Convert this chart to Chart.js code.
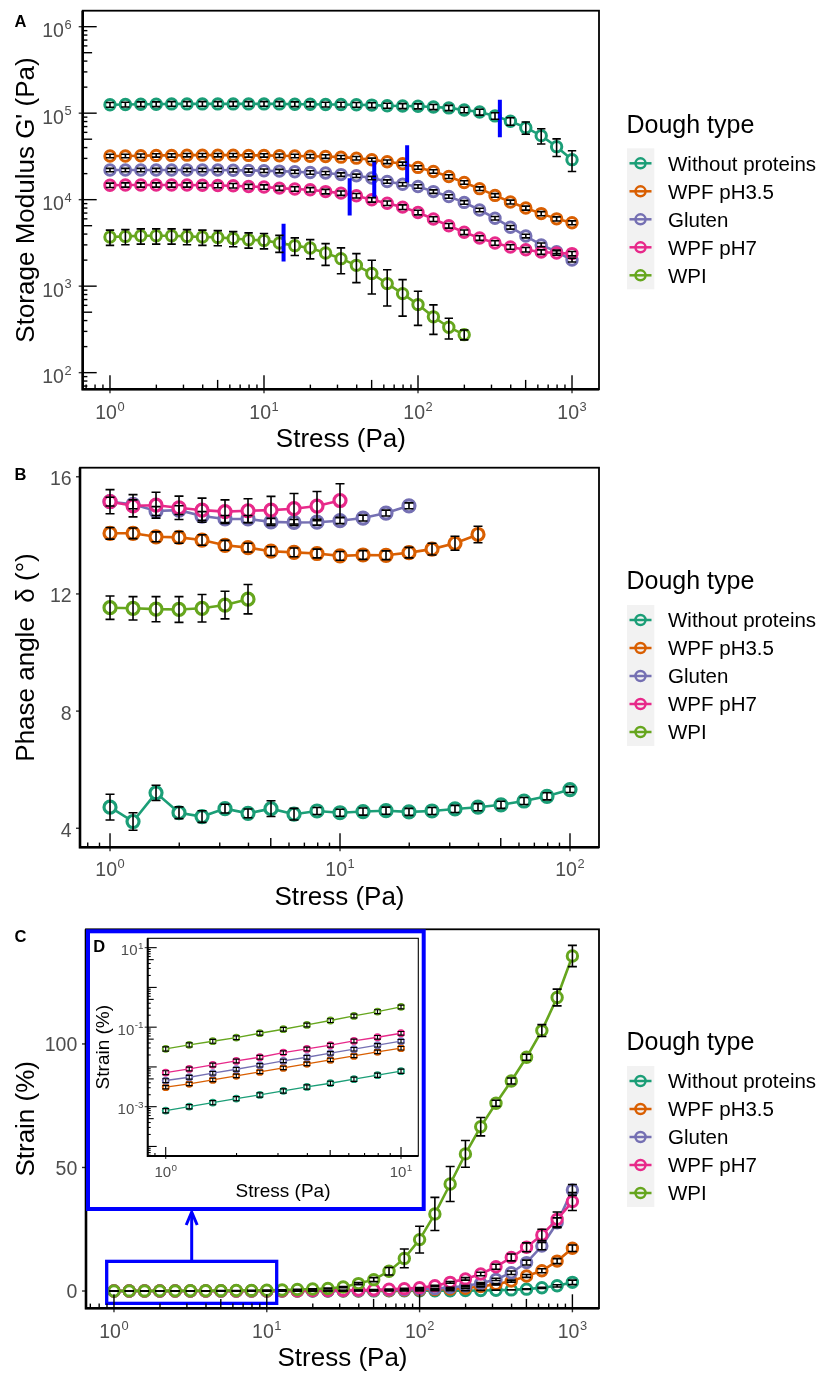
<!DOCTYPE html>
<html><head><meta charset="utf-8">
<script src="https://cdn.jsdelivr.net/npm/chart.js@4.4.1/dist/chart.umd.min.js"></script>
<style>
html,body{margin:0;padding:0;background:#fff;}
body{width:821px;height:1374px;position:relative;overflow:hidden;}
canvas{position:absolute;display:block;}
</style></head><body>
<canvas id="cA" width="821" height="455" style="left:0;top:0;width:821px;height:455px"></canvas>
<canvas id="cB" width="821" height="455" style="left:0;top:455px;width:821px;height:455px"></canvas>
<canvas id="cC" width="821" height="464" style="left:0;top:910px;width:821px;height:464px"></canvas>
<canvas id="cD" width="344" height="290" style="left:84px;top:925px;width:344px;height:290px"></canvas>
<script>
// ---------------- DATA ----------------
const groups = ['Without proteins','WPF pH3.5','Gluten','WPF pH7','WPI'];
const colors = ['#1B9E77','#D95F02','#7570B3','#E7298A','#66A61E'];
const stress = [1,1.259,1.585,1.995,2.512,3.162,3.981,5.012,6.31,7.943,10,12.59,15.85,19.95,25.12,31.62,39.81,50.12,63.1,79.43,100,125.9,158.5,199.5,251.2,316.2,398.1,501.2,631,794.3,1000];

// Panel A: storage modulus G' (Pa)
const gWithout = [125000,126000,127000,127000,128000,128000,128000,128000,128000,128000,128000,128000,127000,127000,126000,126000,125000,124000,122000,121000,120000,118000,115000,109000,103000,93000,80500,68000,55000,41000,29000];
const gWpf35 = [32000,32000,32200,32500,32500,32700,32700,32700,32700,32500,32500,32200,32000,31800,31500,31000,30200,28900,27400,26000,23600,21200,18500,15800,13400,11200,9400,8000,6900,6000,5400];
const gGluten = [22000,22000,22000,22000,22000,22000,22000,22000,21900,21800,21600,21400,21000,20600,20300,19500,18900,17800,16200,15100,14200,12400,10900,9300,7600,6100,4800,3800,3000,2500,2000];
const gWpf7 = [14700,14800,14800,14800,14800,14800,14700,14600,14500,14200,14000,13600,13300,13000,12400,11900,11100,9970,9100,8200,7100,5970,5000,4200,3600,3160,2840,2640,2480,2420,2380];
const gWpi = [3700,3760,3830,3830,3830,3760,3700,3660,3560,3440,3380,3160,2940,2760,2420,2080,1740,1400,1070,820,612,442,335,275];
const gErrWithout = [8000,8000,8000,8000,8000,8000,8000,8000,8000,8000,8000,8000,8000,8000,8000,8000,8000,8000,8000,8000,8000,8000,8000,8000,8000,8000,8000,11000,11000,9500,7800];
const gErrWpf35 = [1500,1500,1500,1500,1500,1500,1500,1500,1500,1500,1500,1500,1500,1500,1500,1400,1400,1300,1300,1200,1100,1000,900,750,650,550,480,430,380,330,280];
const gErrGluten = [1000,1000,1000,1000,1000,1000,1000,1000,1000,1000,1000,1000,950,950,900,900,850,800,750,700,650,580,500,440,360,290,230,180,150,120,100];
const gErrWpf7 = [850,850,850,850,850,850,850,850,850,830,820,800,780,760,740,700,660,600,550,500,430,370,310,260,220,190,170,160,150,145,140];
const gErrWpi = [740,750,770,770,770,750,740,730,710,690,680,700,680,690,680,690,640,590,480,370,260,165,90,36];
// LVE limit markers (blue bars)
const lveStress = [340,85,52,36,13.4];
const lveLow = [52800,15800,10400,6580,1930];
const lveHigh = [143000,42700,28100,17700,5270];

// Panel B: phase angle (deg)
const pWithout = [4.72,4.23,5.21,4.53,4.40,4.67,4.51,4.67,4.48,4.59,4.53,4.57,4.60,4.56,4.59,4.66,4.72,4.80,4.93,5.09,5.32];
const pWpf35 = [14.07,14.07,13.95,13.93,13.84,13.66,13.58,13.46,13.42,13.38,13.30,13.33,13.32,13.41,13.53,13.73,14.03];
const pGluten = [15.15,15.06,14.83,14.86,14.66,14.56,14.56,14.46,14.44,14.45,14.50,14.59,14.76,15.01];
const pWpf7 = [15.15,15.01,15.03,14.94,14.86,14.81,14.84,14.86,14.91,15.00,15.19];
const pWpi = [11.53,11.51,11.48,11.47,11.51,11.62,11.82];
const pErrWithout = [0.44,0.30,0.26,0.20,0.20,0.15,0.15,0.27,0.20,0.12,0.12,0.12,0.12,0.12,0.12,0.12,0.12,0.12,0.12,0.12,0.10];
const pErrWpf35 = [0.20,0.18,0.17,0.20,0.18,0.17,0.15,0.15,0.15,0.15,0.15,0.15,0.15,0.18,0.20,0.24,0.28];
const pErrGluten = [0.15,0.15,0.15,0.15,0.15,0.12,0.12,0.12,0.10,0.10,0.10,0.10,0.10,0.10];
const pErrWpf7 = [0.41,0.38,0.44,0.40,0.41,0.40,0.41,0.47,0.52,0.50,0.57];
const pErrWpi = [0.40,0.40,0.43,0.44,0.47,0.47,0.50];

// Panel C / D: strain (%)
const sWithout = [0.000798,0.001005,0.001268,0.0016,0.00198,0.0025,0.00315,0.0039,0.00492,0.00621,0.00782,0.0098,0.0123,0.0155,0.0195,0.0245,0.031,0.039,0.049,0.062,0.08,0.1,0.13,0.17,0.23,0.33,0.45,0.75,1.3,2.1,3.5];
const sWpf35 = [0.0031,0.00375,0.00472,0.00596,0.0075,0.00946,0.01194,0.01503,0.01897,0.02393,0.02965,0.037,0.047,0.06,0.076,0.1,0.13,0.17,0.23,0.3,0.42,0.6,0.82,1.1,1.8,2.7,4.0,6.1,8.2,12.1,17.3];
const sGluten = [0.00454,0.00552,0.00697,0.00877,0.01107,0.01419,0.01758,0.02218,0.02799,0.03524,0.04446,0.056,0.072,0.093,0.12,0.16,0.21,0.28,0.38,0.52,0.7,0.95,1.4,2.0,3.1,4.7,7.4,11.5,18.2,27.6,40.9];
const sWpf7 = [0.00721,0.00893,0.01127,0.01419,0.01758,0.02296,0.02844,0.03524,0.04519,0.05598,0.0706,0.09,0.12,0.15,0.2,0.27,0.36,0.5,0.7,0.95,1.3,2.1,3.5,4.9,6.9,9.8,13.6,17.7,22.7,29.0,36.2];
const sWpi = [0.0285,0.0359,0.0444,0.0547,0.0706,0.089,0.114,0.147,0.192,0.247,0.325,0.42,0.58,0.8,1.0,1.6,3.0,4.6,8.0,13.2,20.8,31.2,43.3,55.5,66.5,76.0,85.0,94.6,105.4,118.8,135.6];
const sErrWithout = [0.0001,0.00012,0.00015,0.00019,0.00024,0.0003,0.00038,0.00047,0.00059,0.00075,0.00094,0.0012,0.0015,0.0019,0.0024,0.003,0.004,0.005,0.006,0.008,0.01,0.013,0.017,0.022,0.03,0.045,0.07,0.12,0.25,0.45,0.9];
const sErrWpf35 = [0.0003,0.00037,0.00047,0.0006,0.00075,0.00095,0.0012,0.0015,0.0019,0.0024,0.003,0.0037,0.0047,0.006,0.008,0.01,0.013,0.017,0.023,0.03,0.04,0.06,0.08,0.11,0.18,0.27,0.4,0.6,0.8,1.0,1.3];
const sErrGluten = [0.0005,0.0006,0.0007,0.0009,0.0011,0.0014,0.0018,0.0022,0.0028,0.0035,0.0045,0.006,0.007,0.009,0.012,0.016,0.021,0.028,0.038,0.05,0.07,0.1,0.14,0.2,0.3,0.45,0.7,1.0,1.5,2.0,2.2];
const sErrWpf7 = [0.0008,0.001,0.0012,0.0015,0.0019,0.0024,0.003,0.0037,0.0047,0.0058,0.0073,0.009,0.012,0.015,0.02,0.027,0.036,0.05,0.07,0.1,0.13,0.2,0.35,0.5,0.7,1.0,1.4,1.8,2.3,3.0,3.6];
const sErrWpi = [0.0035,0.0042,0.005,0.006,0.0078,0.0098,0.0125,0.016,0.021,0.027,0.035,0.05,0.07,0.1,0.15,0.25,0.4,0.8,1.5,3.8,5.4,6.7,7.1,5.4,3.7,1.2,1.2,1.2,2.4,3.4,4.3];
const insetPoints = 11;
// zoomed region marked in panel C
const zoomStress = [0.896, 11.61];
const zoomStrain = [-5.0, 12.0];

// tick labels
const ticksA_x = [[1,'0'],[10,'1'],[100,'2'],[1000,'3']];
const ticksA_y = [[1e2,'2'],[1e3,'3'],[1e4,'4'],[1e5,'5'],[1e6,'6']];
const ticksB_x = [[1,'0'],[10,'1'],[100,'2']];
const ticksB_y = [[4,'4'],[8,'8'],[12,'12'],[16,'16']];
const ticksC_x = [[1,'0'],[10,'1'],[100,'2'],[1000,'3']];
const ticksC_y = [[0,'0'],[50,'50'],[100,'100']];
const ticksD_x = [[1,'0'],[10,'1']];
const ticksD_y = [[1e-3,'-3'],[1e-1,'-1'],[10,'1']];

// ---------------- DRAWING ----------------
const FONT = '"Liberation Sans", Arial, Helvetica, sans-serif';
const GREY = '#4D4D4D';

function sup(ctx, base, exp, x, y, align, size, color) {
  const es = size * 0.66, gap = size * 0.03;
  ctx.font = size + 'px ' + FONT; const w1 = ctx.measureText(base).width;
  ctx.font = es + 'px ' + FONT; const w2 = ctx.measureText(exp).width;
  const w = w1 + gap + w2;
  const x0 = align === 'right' ? x - w : x - w / 2;
  ctx.fillStyle = color; ctx.textAlign = 'left'; ctx.textBaseline = 'alphabetic';
  ctx.font = size + 'px ' + FONT; ctx.fillText(base, x0, y + size * 0.358);
  ctx.font = es + 'px ' + FONT; ctx.fillText(exp, x0 + w1 + gap, y - size * 0.06);
}
function plain(ctx, s, x, y, size, color) {
  ctx.font = size + 'px ' + FONT; ctx.fillStyle = color; ctx.textAlign = 'right'; ctx.textBaseline = 'alphabetic';
  ctx.fillText(s, x, y + size * 0.358);
}
function logTickList(min, max) {
  const out = [];
  for (let e = Math.floor(Math.log10(min)); e <= Math.ceil(Math.log10(max)); e++)
    for (let k = 1; k <= 9; k++) { const v = k * Math.pow(10, e); if (v >= min && v <= max) out.push([v, k]); }
  return out;
}
function drawLegend(ctx, y0) {
  ctx.save();
  ctx.fillStyle = '#F2F2F2'; ctx.fillRect(627, y0 - 15, 27.3, 141);
  ctx.fillStyle = '#000'; ctx.font = '25px ' + FONT; ctx.textAlign = 'left'; ctx.textBaseline = 'alphabetic';
  ctx.fillText('Dough type', 626.5, y0 - 30.7);
  groups.forEach((g, i) => {
    const yy = y0 + 28 * i;
    ctx.strokeStyle = colors[i]; ctx.lineWidth = 2.5;
    ctx.beginPath(); ctx.moveTo(629.5, yy); ctx.lineTo(651.5, yy); ctx.stroke();
    ctx.beginPath(); ctx.arc(640.5, yy, 5, 0, 2 * Math.PI); ctx.stroke();
    ctx.fillStyle = '#000'; ctx.font = '20.5px ' + FONT; ctx.fillText(g, 668, yy + 7.3);
  });
  ctx.restore();
}
function drawErrors(chart, P) {
  const ctx = chart.ctx, ys = chart.scales.y;
  ctx.save(); ctx.strokeStyle = '#000'; ctx.lineWidth = P.ebW; ctx.lineCap = 'butt';
  chart.data.datasets.forEach((ds, di) => {
    if (!ds.errs) return;
    const meta = chart.getDatasetMeta(di);
    meta.data.forEach((pt, j) => {
      const v = ds.data[j].y, e = ds.errs[j];
      let lo = v - e; if (P.ylog && lo <= 0) lo = v * 0.05;
      const y1 = ys.getPixelForValue(v + e), y2 = ys.getPixelForValue(lo), x = pt.x, c = P.cap;
      ctx.beginPath();
      ctx.moveTo(x, y1); ctx.lineTo(x, y2);
      ctx.moveTo(x - c, y1); ctx.lineTo(x + c, y1);
      ctx.moveTo(x - c, y2); ctx.lineTo(x + c, y2);
      ctx.stroke();
    });
  });
  ctx.restore();
}
function drawFrame(chart, P) {
  const ctx = chart.ctx, a = chart.chartArea, xs = chart.scales.x, ys = chart.scales.y;
  const X = v => v - P.L, Y = v => v - P.T;
  ctx.save(); ctx.lineCap = 'butt';
  const seg = (x1, y1, x2, y2) => { ctx.beginPath(); ctx.moveTo(x1, y1); ctx.lineTo(x2, y2); ctx.stroke(); };
  const len = k => k === 1 ? P.tl[0] : (k === 5 ? P.tl[1] : P.tl[2]);
  ctx.strokeStyle = '#000'; ctx.lineWidth = P.tickW;
  logTickList(xs.min, xs.max).forEach(([v, k]) => { const px = xs.getPixelForValue(v); seg(px, a.bottom, px, a.bottom - len(k)); });
  if (P.ylog) logTickList(ys.min, ys.max).forEach(([v, k]) => { const py = ys.getPixelForValue(v); seg(a.left, py, a.left + len(k), py); });
  ctx.strokeStyle = '#333';
  P.xMaj.forEach(([v]) => { const px = xs.getPixelForValue(v); seg(px, a.bottom, px, a.bottom + P.out); });
  P.yMaj.forEach(([v]) => { const py = ys.getPixelForValue(v); seg(a.left, py, a.left - P.out, py); });
  ctx.strokeStyle = '#000';
  ctx.lineWidth = P.boxW; ctx.strokeRect(a.left, a.top, a.right - a.left, a.bottom - a.top);
  ctx.lineWidth = P.axisW; ctx.beginPath(); ctx.moveTo(a.left, a.top); ctx.lineTo(a.left, a.bottom); ctx.lineTo(a.right, a.bottom); ctx.stroke();
  P.xMaj.forEach(([v, s]) => { const px = xs.getPixelForValue(v); sup(ctx, '10', s, px, a.bottom + P.xLabDy, 'center', P.tickSize, GREY); });
  P.yMaj.forEach(([v, s]) => {
    const py = ys.getPixelForValue(v);
    if (P.ylog) sup(ctx, '10', s, X(P.yLabRight), py + P.yLabDy, 'right', P.tickSize, GREY);
    else plain(ctx, s, X(P.yLabRight), py + P.yLabDy, P.tickSize, GREY);
  });
  ctx.fillStyle = '#000'; ctx.font = P.titleSize + 'px ' + FONT; ctx.textAlign = 'center'; ctx.textBaseline = 'alphabetic';
  ctx.fillText(P.xTitle, (a.left + a.right) / 2, a.bottom + P.xTitleDy);
  ctx.save(); ctx.translate(X(P.yTitleX), (a.top + a.bottom) / 2); ctx.rotate(-Math.PI / 2); ctx.fillText(P.yTitle, 0, 0); ctx.restore();
  ctx.font = 'bold ' + P.letterSize + 'px ' + FONT; ctx.textAlign = 'left'; ctx.fillText(P.letter, X(P.letterX), Y(P.letterBase));
  if (P.legend0) drawLegend(ctx, Y(P.legend0));
  ctx.restore();
}

function series(xs, ys, errs, idx, st) {
  return {
    label: groups[idx], data: ys.map((y, i) => ({ x: xs[i], y: y })), errs: errs,
    borderColor: colors[idx], backgroundColor: colors[idx], borderWidth: st.lw,
    pointRadius: st.r, pointHoverRadius: st.r, pointBorderWidth: st.bw,
    pointBackgroundColor: '#fff', pointBorderColor: colors[idx],
    tension: 0, fill: false, order: 5 - idx
  };
}
function makeChart(id, P, datasets, extra) {
  return new Chart(document.getElementById(id), {
    type: 'line',
    data: { datasets: datasets },
    options: {
      responsive: false, animation: false, devicePixelRatio: 1,
      layout: { padding: P.pad },
      plugins: { legend: { display: false }, tooltip: { enabled: false } },
      events: [],
      scales: {
        x: { type: 'logarithmic', display: false, bounds: 'data', min: P.xmin, max: P.xmax },
        y: { type: P.ylog ? 'logarithmic' : 'linear', display: false, bounds: 'data', min: P.ymin, max: P.ymax }
      }
    },
    plugins: [{
      id: 'frame' + P.letter,
      beforeDraw(chart) { if (extra && extra.before) extra.before(chart); },
      afterDatasetsDraw(chart) { drawErrors(chart, P); if (extra && extra.after) extra.after(chart); },
      afterDraw(chart) { drawFrame(chart, P); }
    }]
  });
}

const stMain = { lw: 2.6, r: 5.2, bw: 3.0 };
const stB = { lw: 2.6, r: 6.0, bw: 3.2 };
const stD = { lw: 1.4, r: 3.0, bw: 1.8 };

// ---- Panel A ----
const PA = { letter: 'A', T: 0, L: 0, ylog: true, pad: { left: 82.7, top: 10.7, right: 222, bottom: 65.7 },
  xmin: 0.665, xmax: 1497, ymin: 64.2, ymax: 1.53e6,
  tl: [14, 9.4, 4.7], tickW: 1.4, out: 4, boxW: 1.8, axisW: 2.6,
  xMaj: ticksA_x, yMaj: ticksA_y, yLabRight: 71.7, yLabDy: 3.5, tickSize: 19.5, xLabDy: 22.5,
  xTitle: 'Stress (Pa)', yTitle: "Storage Modulus G' (Pa)", yTitleX: 33.5, titleSize: 26, xTitleDy: 57.7,
  letterX: 14.5, letterBase: 26.7, letterSize: 16.5, legend0: 163.3, ebW: 1.6, cap: 4.2 };
const dsA = [
  series(stress, gWithout, gErrWithout, 0, stMain),
  series(stress, gWpf35, gErrWpf35, 1, stMain),
  series(stress, gGluten, gErrGluten, 2, stMain),
  series(stress, gWpf7, gErrWpf7, 3, stMain),
  series(stress, gWpi, gErrWpi, 4, stMain)
];
lveStress.forEach((s, i) => dsA.push({ label: 'LVE', data: [{ x: s, y: lveLow[i] }, { x: s, y: lveHigh[i] }],
  borderColor: '#0000FF', borderWidth: 4, pointRadius: 0, borderCapStyle: 'butt', fill: false, order: 0 }));
makeChart('cA', PA, dsA);

// ---- Panel B ----
const PB = { letter: 'B', T: 455, L: 0, ylog: false, pad: { left: 80, top: 12.7, right: 222, bottom: 62.7 },
  xmin: 0.7404, xmax: 133.7, ymin: 3.35, ymax: 16.31,
  tl: [14, 9.4, 4.7], tickW: 1.4, out: 4, boxW: 1.8, axisW: 2.6,
  xMaj: ticksB_x, yMaj: ticksB_y, yLabRight: 71.7, yLabDy: 1.5, tickSize: 19.5, xLabDy: 22,
  xTitle: 'Stress (Pa)', yTitle: 'Phase angle  \u03B4 (\u00B0)', yTitleX: 33.5, titleSize: 26, xTitleDy: 57.7,
  letterX: 14.5, letterBase: 480, letterSize: 16.5, legend0: 620, ebW: 1.6, cap: 4.5 };
makeChart('cB', PB, [
  series(stress, pWithout, pErrWithout, 0, stB),
  series(stress, pWpf35, pErrWpf35, 1, stB),
  series(stress, pGluten, pErrGluten, 2, stB),
  series(stress, pWpf7, pErrWpf7, 3, stB),
  series(stress, pWpi, pErrWpi, 4, stB)
]);

// ---- Panel C ----
const PC = { letter: 'C', T: 910, L: 0, ylog: false, pad: { left: 86, top: 19.3, right: 222, bottom: 65.7 },
  xmin: 0.656, xmax: 1493, ymin: -7.0, ymax: 146.4,
  tl: [14, 9.4, 4.7], tickW: 1.4, out: 4, boxW: 1.8, axisW: 2.6,
  xMaj: ticksC_x, yMaj: ticksC_y, yLabRight: 77.3, yLabDy: 0.5, tickSize: 19.5, xLabDy: 22.5,
  xTitle: 'Stress (Pa)', yTitle: 'Strain (%)', yTitleX: 33.5, titleSize: 26, xTitleDy: 57.7,
  letterX: 14.5, letterBase: 941.7, letterSize: 16.5, legend0: 1081, ebW: 1.6, cap: 4.5 };
makeChart('cC', PC, [
  series(stress, sWithout, sErrWithout, 0, stMain),
  series(stress, sWpf35, sErrWpf35, 1, stMain),
  series(stress, sGluten, sErrGluten, 2, stMain),
  series(stress, sWpf7, sErrWpf7, 3, stMain),
  series(stress, sWpi, sErrWpi, 4, stMain)
], {
  after(chart) {
    const ctx = chart.ctx, xs = chart.scales.x, ys = chart.scales.y;
    const x1 = xs.getPixelForValue(zoomStress[0]), x2 = xs.getPixelForValue(zoomStress[1]);
    const y1 = ys.getPixelForValue(zoomStrain[1]), y2 = ys.getPixelForValue(zoomStrain[0]);
    ctx.save(); ctx.strokeStyle = '#0000FF'; ctx.lineWidth = 3.3;
    ctx.strokeRect(x1, y1, x2 - x1, y2 - y1);
    const xm = xs.getPixelForValue(Math.sqrt(zoomStress[0] * zoomStress[1]));
    const tip = 1212 - PC.T;
    ctx.lineWidth = 3;
    ctx.beginPath(); ctx.moveTo(xm, y1); ctx.lineTo(xm, tip + 1); ctx.stroke();
    ctx.beginPath(); ctx.moveTo(xm - 5.5, tip + 13); ctx.lineTo(xm, tip); ctx.lineTo(xm + 5.5, tip + 13); ctx.stroke();
    ctx.restore();
  }
});

// ---- Panel D (inset) ----
const PD = { letter: 'D', T: 925, L: 84, ylog: true, pad: { left: 63.7, top: 13.3, right: 9.7, bottom: 59 },
  xmin: 0.8384, xmax: 11.844, ymin: 5.75e-5, ymax: 17.2,
  tl: [9, 6, 3], tickW: 1.1, out: 3, boxW: 1.1, axisW: 2,
  xMaj: ticksD_x, yMaj: ticksD_y, yLabRight: 143.5, yLabDy: 2, tickSize: 15, xLabDy: 15.7,
  xTitle: 'Stress (Pa)', yTitle: 'Strain (%)', yTitleX: 108.7, titleSize: 19, xTitleDy: 40.7,
  letterX: 93.3, letterBase: 951.7, letterSize: 16.5, legend0: 0, ebW: 1.2, cap: 3.4 };
const n = insetPoints;
makeChart('cD', PD, [
  series(stress.slice(0, n), sWithout.slice(0, n), sErrWithout.slice(0, n), 0, stD),
  series(stress.slice(0, n), sWpf35.slice(0, n), sErrWpf35.slice(0, n), 1, stD),
  series(stress.slice(0, n), sGluten.slice(0, n), sErrGluten.slice(0, n), 2, stD),
  series(stress.slice(0, n), sWpf7.slice(0, n), sErrWpf7.slice(0, n), 3, stD),
  series(stress.slice(0, n), sWpi.slice(0, n), sErrWpi.slice(0, n), 4, stD)
], {
  before(chart) {
    const ctx = chart.ctx;
    ctx.save();
    ctx.fillStyle = '#fff'; ctx.fillRect(4, 6.3, 335.7, 277.7);
    ctx.strokeStyle = '#0000FF'; ctx.lineWidth = 4; ctx.strokeRect(4, 6.3, 335.7, 277.7);
    ctx.restore();
  }
});
</script></body></html>
